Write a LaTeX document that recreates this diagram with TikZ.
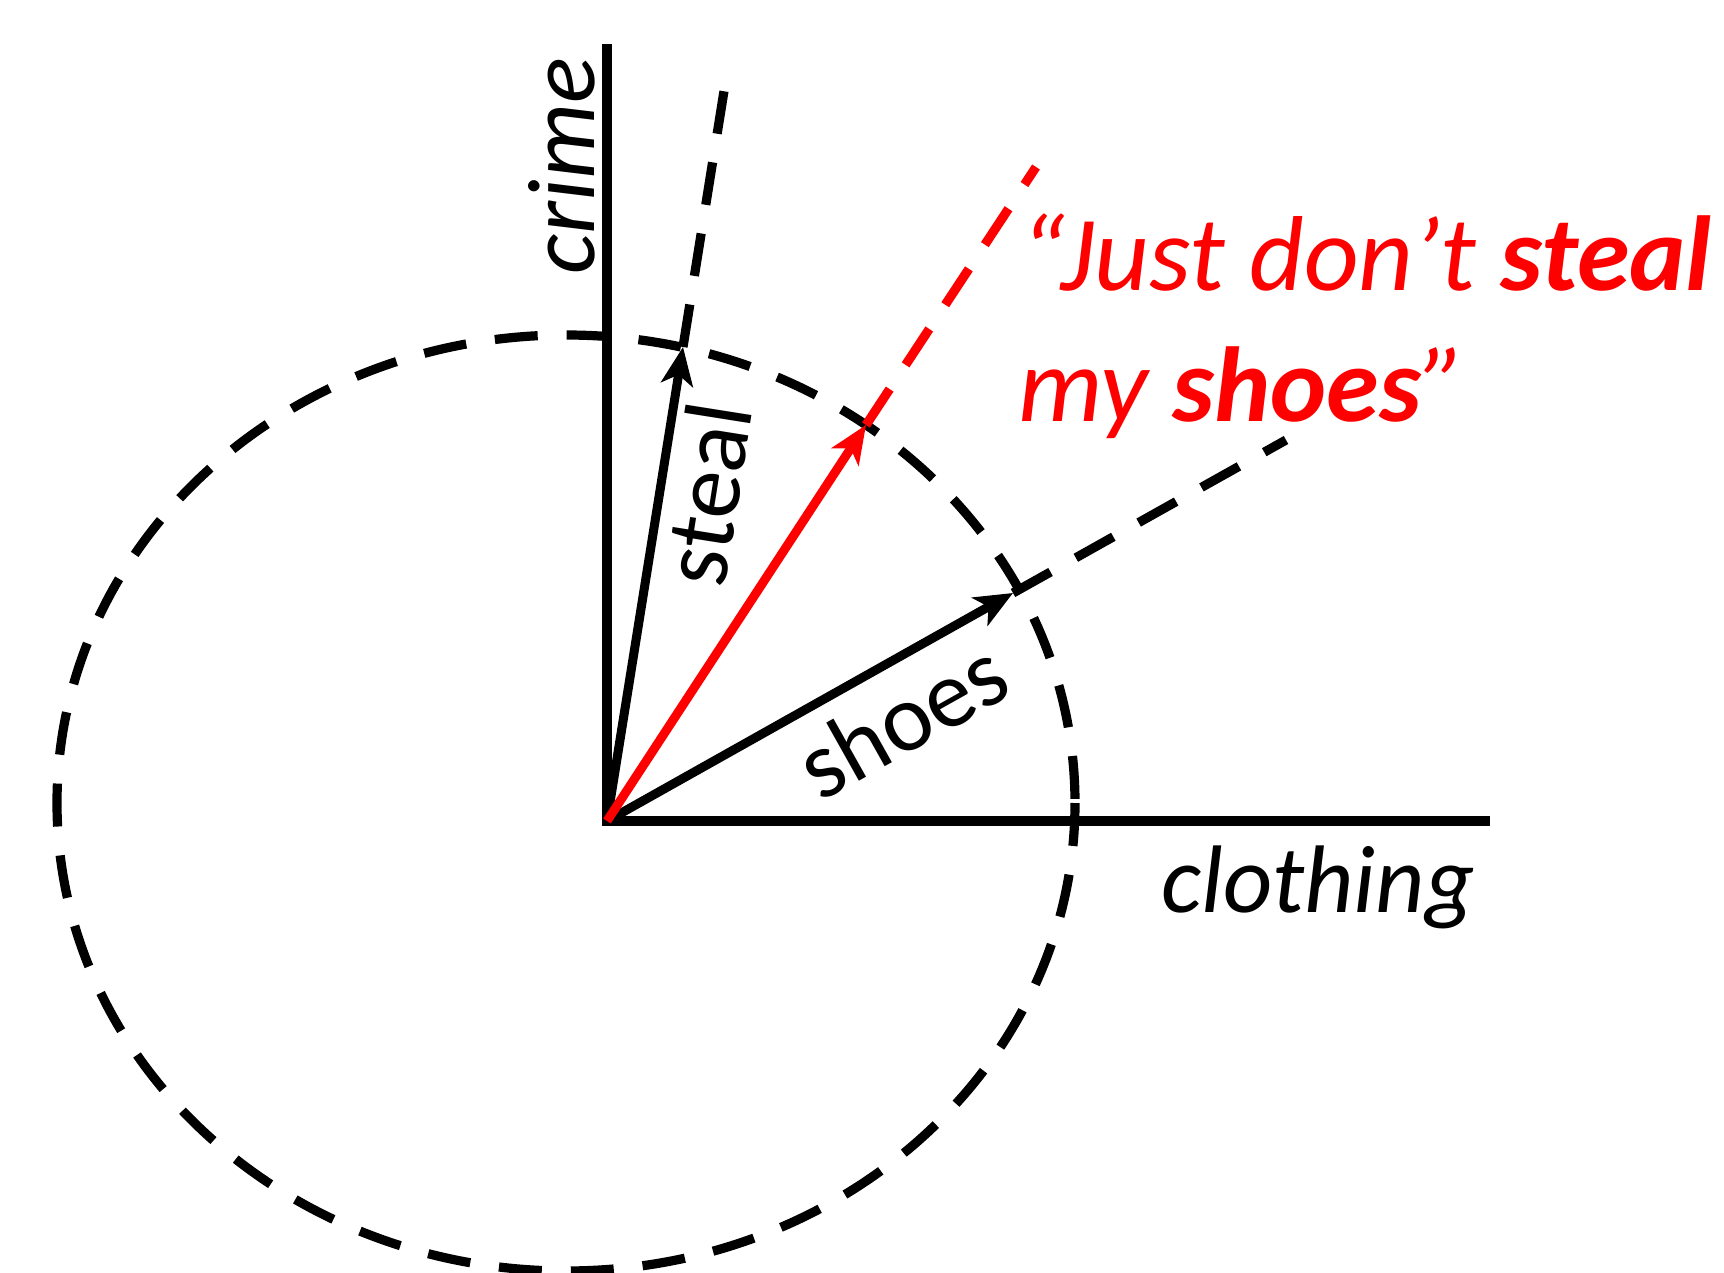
\documentclass[tikz,border=0pt]{standalone}
\usepackage{fontspec}
\setmainfont{Carlito}
\usetikzlibrary{arrows.meta}
\definecolor{qred}{RGB}{255,0,0}
\begin{document}
\begin{tikzpicture}[x=0.5pt,y=-0.5pt,
  axis/.style={line width=4.6pt,line join=miter},
  vec/.style={line width=4.5pt,-{Stealth[length=19pt,width=16pt,inset=5pt]}},
  ext/.style={line width=4.6pt,dash pattern=on 21.5pt off 14.5pt},
  lbl/.style={inner sep=0pt,font=\fontsize{48}{58}\selectfont},
  lbli/.style={inner sep=0pt,font=\fontsize{48}{58}\selectfont\itshape},
  quote/.style={inner sep=0pt,text=qred,anchor=base west,font=\fontsize{53.3}{64}\selectfont\itshape}]
\useasboundingbox (0,0) rectangle (1724,1273);
% key points
\coordinate (O) at (607,821);
\coordinate (crimeTop) at (607,44);
\coordinate (clothRight) at (1490,821);
\coordinate (stealTip) at (683,347);
\coordinate (redTip) at (866,425);
\coordinate (shoesTip) at (1013,593);
\coordinate (stealFar) at (728,66);
\coordinate (redFar) at (1036,167);
\coordinate (shoesFar) at (1286,440);
% dashed ellipse
\draw[ext] (566,803) ellipse [x radius=509, y radius=468];
% axes
\draw[axis] (crimeTop) -- (O) -- (clothRight);
% extension lines
\draw[ext] (stealTip) -- (stealFar);
\draw[ext] (shoesTip) -- (shoesFar);
\draw[ext,qred] (redTip) -- (redFar);
% vectors
\draw[vec] (O) -- (stealTip);
\draw[vec] (O) -- (shoesTip);
\draw[vec,qred] (O) -- (redTip);
% labels
\node[lbli,rotate=90,anchor=base] (crime) at (594,166) {crime};
\node[lbli,anchor=base] (clothing) at (1318,912) {clothing};
\node[lbl,rotate=81,anchor=base] (steal) at (739,499) {steal};
\node[lbl,rotate=29.3,anchor=base] (shoes) at (918,748) {shoes};
\node[quote] (quoteA) at (1020,291) {“Just don’t \textbf{steal}};
\node[quote] (quoteB) at (1018,421) {my \textbf{shoes}”};
\end{tikzpicture}
\end{document}
